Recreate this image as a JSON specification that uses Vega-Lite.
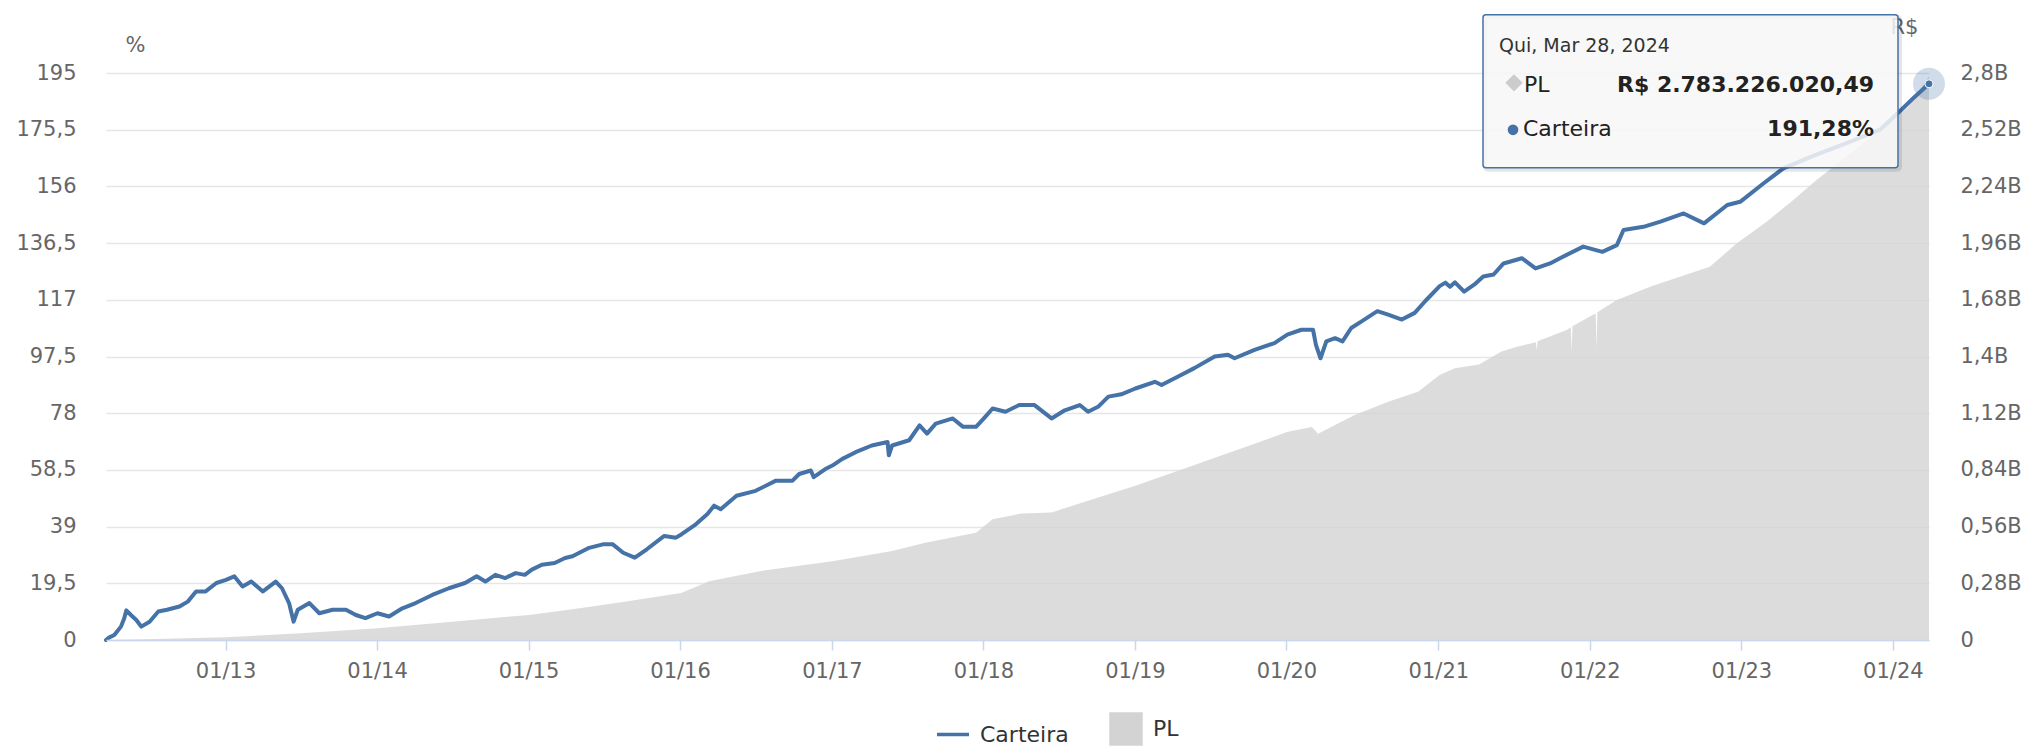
{
  "$schema": "https://vega.github.io/schema/vega-lite/v6.json",
  "width": 1823,
  "height": 567,
  "autosize": {"type": "none"},
  "padding": {"left": 106, "top": 73, "right": 96, "bottom": 107},
  "background": "white",
  "config": {
    "view": {"stroke": null},
    "font": "DejaVu Sans",
    "locale": {
      "number": {"decimal": ",", "thousands": ".", "grouping": [3], "currency": ["R$ ", ""]},
      "time": {
        "dateTime": "%A, %e de %B de %Y. %X",
        "date": "%d/%m/%Y",
        "time": "%H:%M:%S",
        "periods": ["AM", "PM"],
        "days": ["Domingo", "Segunda", "Terça", "Quarta", "Quinta", "Sexta", "Sábado"],
        "shortDays": ["Dom", "Seg", "Ter", "Qua", "Qui", "Sex", "Sáb"],
        "months": ["Janeiro", "Fevereiro", "Março", "Abril", "Maio", "Junho", "Julho", "Agosto", "Setembro", "Outubro", "Novembro", "Dezembro"],
        "shortMonths": ["Jan", "Fev", "Mar", "Abr", "Mai", "Jun", "Jul", "Ago", "Set", "Out", "Nov", "Dez"]
      }
    }
  },
  "datasets": {
    "carteira": [
      {"date": "2012-03-19", "carteira": 0},
      {"date": "2012-03-26", "carteira": 0.8},
      {"date": "2012-04-08", "carteira": 1.7},
      {"date": "2012-04-24", "carteira": 4.6},
      {"date": "2012-05-02", "carteira": 7.5},
      {"date": "2012-05-07", "carteira": 10.2},
      {"date": "2012-05-18", "carteira": 8.6},
      {"date": "2012-05-31", "carteira": 6.9},
      {"date": "2012-06-12", "carteira": 4.6},
      {"date": "2012-07-02", "carteira": 6.3},
      {"date": "2012-07-23", "carteira": 9.8},
      {"date": "2012-08-13", "carteira": 10.4},
      {"date": "2012-09-12", "carteira": 11.5},
      {"date": "2012-10-02", "carteira": 13.2},
      {"date": "2012-10-22", "carteira": 16.7},
      {"date": "2012-11-14", "carteira": 16.7},
      {"date": "2012-12-10", "carteira": 19.6},
      {"date": "2013-01-02", "carteira": 20.7},
      {"date": "2013-01-22", "carteira": 21.9},
      {"date": "2013-02-11", "carteira": 18.4},
      {"date": "2013-03-04", "carteira": 20.1},
      {"date": "2013-04-01", "carteira": 16.7},
      {"date": "2013-05-02", "carteira": 20.1},
      {"date": "2013-05-17", "carteira": 17.8},
      {"date": "2013-06-03", "carteira": 12.7},
      {"date": "2013-06-14", "carteira": 6.3},
      {"date": "2013-06-24", "carteira": 10.4},
      {"date": "2013-07-22", "carteira": 12.7},
      {"date": "2013-08-15", "carteira": 9.2},
      {"date": "2013-09-16", "carteira": 10.4},
      {"date": "2013-10-18", "carteira": 10.4},
      {"date": "2013-11-11", "carteira": 8.6},
      {"date": "2013-12-04", "carteira": 7.5},
      {"date": "2014-01-02", "carteira": 9.2},
      {"date": "2014-01-30", "carteira": 8.1},
      {"date": "2014-03-03", "carteira": 10.9},
      {"date": "2014-04-04", "carteira": 12.7},
      {"date": "2014-05-14", "carteira": 15.5},
      {"date": "2014-06-23", "carteira": 17.8},
      {"date": "2014-08-01", "carteira": 19.6},
      {"date": "2014-08-29", "carteira": 21.9},
      {"date": "2014-09-19", "carteira": 20.1},
      {"date": "2014-10-13", "carteira": 22.4},
      {"date": "2014-11-06", "carteira": 21.3},
      {"date": "2014-12-01", "carteira": 23},
      {"date": "2014-12-23", "carteira": 22.4},
      {"date": "2015-01-09", "carteira": 24.2},
      {"date": "2015-02-02", "carteira": 25.9},
      {"date": "2015-03-05", "carteira": 26.5},
      {"date": "2015-03-30", "carteira": 28.2},
      {"date": "2015-04-17", "carteira": 28.8},
      {"date": "2015-05-27", "carteira": 31.7},
      {"date": "2015-06-29", "carteira": 32.9},
      {"date": "2015-07-23", "carteira": 32.9},
      {"date": "2015-08-17", "carteira": 30},
      {"date": "2015-09-14", "carteira": 28.3},
      {"date": "2015-10-13", "carteira": 31.2},
      {"date": "2015-11-24", "carteira": 35.8},
      {"date": "2015-12-22", "carteira": 35.2},
      {"date": "2016-01-04", "carteira": 36.3},
      {"date": "2016-02-08", "carteira": 39.8},
      {"date": "2016-03-07", "carteira": 43.3},
      {"date": "2016-03-23", "carteira": 46.2},
      {"date": "2016-04-08", "carteira": 45},
      {"date": "2016-05-16", "carteira": 49.6},
      {"date": "2016-07-01", "carteira": 51.3},
      {"date": "2016-08-19", "carteira": 54.8},
      {"date": "2016-09-28", "carteira": 54.8},
      {"date": "2016-10-14", "carteira": 57.1},
      {"date": "2016-11-11", "carteira": 58.3},
      {"date": "2016-11-18", "carteira": 56},
      {"date": "2016-12-16", "carteira": 58.8},
      {"date": "2017-01-02", "carteira": 60},
      {"date": "2017-01-26", "carteira": 62.3},
      {"date": "2017-02-27", "carteira": 64.6},
      {"date": "2017-04-07", "carteira": 66.9},
      {"date": "2017-05-15", "carteira": 68.1},
      {"date": "2017-05-18", "carteira": 63.5},
      {"date": "2017-05-26", "carteira": 66.9},
      {"date": "2017-07-06", "carteira": 68.7},
      {"date": "2017-07-31", "carteira": 73.8},
      {"date": "2017-08-18", "carteira": 71},
      {"date": "2017-09-08", "carteira": 74.4},
      {"date": "2017-10-19", "carteira": 76.2},
      {"date": "2017-11-13", "carteira": 73.3},
      {"date": "2017-12-14", "carteira": 73.3},
      {"date": "2018-01-02", "carteira": 76.2},
      {"date": "2018-01-23", "carteira": 79.6},
      {"date": "2018-02-23", "carteira": 78.5},
      {"date": "2018-03-28", "carteira": 80.8},
      {"date": "2018-05-04", "carteira": 80.8},
      {"date": "2018-06-14", "carteira": 76.2},
      {"date": "2018-07-16", "carteira": 79},
      {"date": "2018-08-21", "carteira": 80.8},
      {"date": "2018-09-10", "carteira": 78.5},
      {"date": "2018-10-04", "carteira": 80.2},
      {"date": "2018-10-29", "carteira": 83.7},
      {"date": "2018-11-29", "carteira": 84.5},
      {"date": "2019-01-02", "carteira": 86.5},
      {"date": "2019-02-18", "carteira": 88.8},
      {"date": "2019-03-06", "carteira": 87.7},
      {"date": "2019-04-15", "carteira": 90.6},
      {"date": "2019-05-24", "carteira": 93.5},
      {"date": "2019-07-12", "carteira": 97.5},
      {"date": "2019-08-13", "carteira": 98.1},
      {"date": "2019-08-29", "carteira": 96.9},
      {"date": "2019-10-16", "carteira": 99.8},
      {"date": "2019-12-03", "carteira": 102.1},
      {"date": "2020-01-03", "carteira": 105},
      {"date": "2020-02-06", "carteira": 106.7},
      {"date": "2020-03-05", "carteira": 106.7},
      {"date": "2020-03-12", "carteira": 101.5},
      {"date": "2020-03-23", "carteira": 96.9},
      {"date": "2020-04-06", "carteira": 102.7},
      {"date": "2020-04-27", "carteira": 103.8},
      {"date": "2020-05-15", "carteira": 102.7},
      {"date": "2020-06-05", "carteira": 107.3},
      {"date": "2020-06-30", "carteira": 109.6},
      {"date": "2020-08-07", "carteira": 113.1},
      {"date": "2020-09-02", "carteira": 111.9},
      {"date": "2020-10-05", "carteira": 110.2},
      {"date": "2020-11-05", "carteira": 112.5},
      {"date": "2020-11-30", "carteira": 116.5},
      {"date": "2021-01-04", "carteira": 121.7},
      {"date": "2021-01-18", "carteira": 122.9},
      {"date": "2021-01-29", "carteira": 121.5},
      {"date": "2021-02-10", "carteira": 123},
      {"date": "2021-03-04", "carteira": 119.8},
      {"date": "2021-03-29", "carteira": 122.3},
      {"date": "2021-04-19", "carteira": 125},
      {"date": "2021-05-14", "carteira": 125.7},
      {"date": "2021-06-07", "carteira": 129.5},
      {"date": "2021-07-21", "carteira": 131.3},
      {"date": "2021-08-23", "carteira": 127.8},
      {"date": "2021-09-27", "carteira": 129.5},
      {"date": "2021-10-21", "carteira": 131.3},
      {"date": "2021-12-16", "carteira": 135.3},
      {"date": "2022-01-31", "carteira": 133.5},
      {"date": "2022-03-07", "carteira": 135.8},
      {"date": "2022-03-23", "carteira": 141},
      {"date": "2022-05-10", "carteira": 142.1},
      {"date": "2022-06-20", "carteira": 143.9},
      {"date": "2022-08-15", "carteira": 146.7},
      {"date": "2022-10-03", "carteira": 143.3},
      {"date": "2022-11-28", "carteira": 149.6},
      {"date": "2022-12-29", "carteira": 150.7},
      {"date": "2023-02-23", "carteira": 157},
      {"date": "2023-04-12", "carteira": 162.2},
      {"date": "2023-06-23", "carteira": 166.5},
      {"date": "2023-09-13", "carteira": 171},
      {"date": "2023-12-01", "carteira": 175.5},
      {"date": "2024-01-19", "carteira": 182},
      {"date": "2024-02-21", "carteira": 186.6},
      {"date": "2024-03-28", "carteira": 191.28}
    ],
    "pl": [
      {"date": "2012-03-19", "pl": 0},
      {"date": "2012-06-01", "pl": 3000000},
      {"date": "2012-09-03", "pl": 7000000},
      {"date": "2013-01-02", "pl": 13000000},
      {"date": "2013-07-01", "pl": 33000000},
      {"date": "2014-01-02", "pl": 58000000},
      {"date": "2014-07-01", "pl": 90000000},
      {"date": "2015-01-02", "pl": 124000000},
      {"date": "2015-04-30", "pl": 155000000},
      {"date": "2015-08-24", "pl": 190000000},
      {"date": "2016-01-04", "pl": 232000000},
      {"date": "2016-03-11", "pl": 290000000},
      {"date": "2016-07-11", "pl": 340000000},
      {"date": "2017-01-02", "pl": 389000000},
      {"date": "2017-05-26", "pl": 439000000},
      {"date": "2017-08-14", "pl": 480000000},
      {"date": "2017-12-14", "pl": 530000000},
      {"date": "2018-01-23", "pl": 596000000},
      {"date": "2018-04-03", "pl": 625000000},
      {"date": "2018-06-14", "pl": 630000000},
      {"date": "2018-09-10", "pl": 688000000},
      {"date": "2019-01-02", "pl": 762000000},
      {"date": "2019-05-09", "pl": 853000000},
      {"date": "2019-10-16", "pl": 969000000},
      {"date": "2020-01-02", "pl": 1027000000},
      {"date": "2020-03-02", "pl": 1052000000},
      {"date": "2020-03-17", "pl": 1019000000},
      {"date": "2020-06-12", "pl": 1110000000},
      {"date": "2020-09-02", "pl": 1176000000},
      {"date": "2020-11-13", "pl": 1226000000},
      {"date": "2021-01-04", "pl": 1309000000},
      {"date": "2021-02-10", "pl": 1342000000},
      {"date": "2021-04-09", "pl": 1360000000},
      {"date": "2021-06-02", "pl": 1425000000},
      {"date": "2021-07-09", "pl": 1448000000},
      {"date": "2021-08-24", "pl": 1470000000},
      {"date": "2021-08-26", "pl": 1430000000},
      {"date": "2021-08-28", "pl": 1475000000},
      {"date": "2021-11-06", "pl": 1531000000},
      {"date": "2021-11-16", "pl": 1545000000},
      {"date": "2021-11-18", "pl": 1420000000},
      {"date": "2021-11-20", "pl": 1550000000},
      {"date": "2022-01-03", "pl": 1600000000},
      {"date": "2022-01-15", "pl": 1612000000},
      {"date": "2022-01-17", "pl": 1440000000},
      {"date": "2022-01-19", "pl": 1618000000},
      {"date": "2022-03-07", "pl": 1679000000},
      {"date": "2022-05-26", "pl": 1745000000},
      {"date": "2022-10-17", "pl": 1843000000},
      {"date": "2022-12-21", "pl": 1959000000},
      {"date": "2023-03-03", "pl": 2066000000},
      {"date": "2023-05-06", "pl": 2173000000},
      {"date": "2023-07-01", "pl": 2272000000},
      {"date": "2023-09-13", "pl": 2390000000},
      {"date": "2023-12-01", "pl": 2520000000},
      {"date": "2024-02-06", "pl": 2630000000},
      {"date": "2024-03-28", "pl": 2783226020.49}
    ],
    "tooltip": [
      {"date": "2024-03-28", "carteira": 191.28, "pl": 2783226020.49}
    ]
  },
  "encoding": {
    "x": {
      "field": "date",
      "type": "temporal",
      "scale": {
        "type": "utc",
        "nice": false,
        "domain": [
          {"year": 2012, "month": 3, "date": 19, "utc": true},
          {"year": 2024, "month": 3, "date": 28, "utc": true}
        ]
      },
      "axis": {
        "title": null,
        "format": "%m/%y",
        "tickCount": {"interval": "year", "step": 1},
        "grid": false,
        "domainColor": "#ccd6eb",
        "domainWidth": 1.5,
        "tickColor": "#ccd6eb",
        "tickWidth": 1.5,
        "tickSize": 10,
        "labelFont": "DejaVu Sans",
        "labelFontSize": 21,
        "labelColor": "#666666",
        "labelBaseline": "alphabetic",
        "labelPadding": 27,
        "labelFlush": false,
        "labelOverlap": false,
        "zindex": 1
      }
    }
  },
  "layer": [
    {
      "data": {"name": "pl"},
      "mark": {"type": "area", "fillOpacity": 0.8, "interpolate": "linear"},
      "encoding": {
        "y": {
          "field": "pl",
          "type": "quantitative",
          "stack": null,
          "scale": {"domain": [0, 2800000000], "nice": false, "zero": true},
          "axis": {
            "orient": "right",
            "grid": false,
            "ticks": false,
            "tickSize": 0,
            "domain": false,
            "labelPadding": 31,
            "values": [0, 280000000, 560000000, 840000000, 1120000000, 1400000000, 1680000000, 1960000000, 2240000000, 2520000000, 2800000000],
            "labelExpr": "datum.value == 0 ? '0' : format(datum.value / 1000000000, '.2~f') + 'B'",
            "labelFont": "DejaVu Sans",
            "labelFontSize": 21,
            "labelColor": "#666666",
            "labelAlign": "left",
            "labelBaseline": "middle",
            "title": "R$",
            "titleAngle": 0,
            "titleX": -25,
            "titleY": -46,
            "titleAlign": "center",
            "titleBaseline": "middle",
            "titleFontWeight": "normal",
            "titleFontSize": 21,
            "titleColor": "#666666"
          }
        },
        "color": {"datum": "PL"}
      }
    },
    {
      "encoding": {
        "y": {
          "field": "carteira",
          "type": "quantitative",
          "scale": {"domain": [0, 195], "nice": false, "zero": true},
          "axis": {
            "orient": "left",
            "grid": true,
            "gridColor": "#e6e6e6",
            "gridWidth": 1.5,
            "ticks": false,
            "tickSize": 0,
            "domain": false,
            "labelPadding": 30,
            "values": [0, 19.5, 39, 58.5, 78, 97.5, 117, 136.5, 156, 175.5, 195],
            "format": ".1~f",
            "labelFont": "DejaVu Sans",
            "labelFontSize": 21,
            "labelColor": "#666666",
            "labelBaseline": "middle",
            "title": "%",
            "titleAngle": 0,
            "titleX": 29,
            "titleY": -28,
            "titleAlign": "center",
            "titleBaseline": "middle",
            "titleFontWeight": "normal",
            "titleFontSize": 21,
            "titleColor": "#666666"
          }
        }
      },
      "layer": [
        {
          "data": {"name": "carteira"},
          "mark": {"type": "line", "strokeWidth": 4, "strokeJoin": "round", "strokeCap": "round"},
          "encoding": {
            "color": {
              "datum": "Carteira",
              "type": "nominal",
              "scale": {"domain": ["Carteira", "PL"], "range": ["#4572A7", "#d3d3d3"]},
              "legend": {
                "orient": "none",
                "legendX": 830,
                "legendY": 639,
                "direction": "horizontal",
                "title": null,
                "labelFont": "DejaVu Sans",
                "labelFontSize": 22,
                "labelColor": "#333333",
                "symbolSize": 900,
                "symbolStrokeWidth": 3.5,
                "labelOffset": 10,
                "columnPadding": 35,
                "encode": {
                  "symbols": {
                    "update": {
                      "shape": {"signal": "datum.value === 'Carteira' ? 'stroke' : 'square'"},
                      "size": {"signal": "datum.value === 'Carteira' ? 1024 : 900"},
                      "fill": {"signal": "datum.value === 'Carteira' ? 'transparent' : '#d3d3d3'"},
                      "stroke": {"signal": "datum.value === 'Carteira' ? '#4572A7' : 'transparent'"},
                      "strokeWidth": {"value": 3.5},
                      "opacity": {"value": 1},
                      "fillOpacity": {"value": 1},
                      "strokeOpacity": {"value": 1}
                    }
                  }
                }
              }
            }
          }
        },
        {
          "data": {"name": "tooltip"},
          "mark": {"type": "point", "shape": "circle", "filled": true, "size": 1018, "color": "#4572A7", "opacity": 0.25}
        },
        {
          "data": {"name": "tooltip"},
          "mark": {"type": "point", "shape": "circle", "filled": true, "size": 64, "fill": "#4572A7", "stroke": "#ffffff", "strokeWidth": 1, "opacity": 1}
        },
        {
          "data": {"name": "tooltip"},
          "mark": {"type": "rect", "fill": "transparent", "stroke": "#000000", "strokeOpacity": 0.1, "strokeWidth": 4, "cornerRadius": 3, "xOffset": -444, "x2Offset": -29, "yOffset": -67, "y2Offset": 86},
          "encoding": {"x2": {"field": "date"}, "y2": {"field": "carteira"}}
        },
        {
          "data": {"name": "tooltip"},
          "mark": {"type": "rect", "fill": "#f7f7f7", "fillOpacity": 0.85, "stroke": "#4572A7", "strokeWidth": 1.5, "cornerRadius": 3, "xOffset": -446, "x2Offset": -31, "yOffset": -69, "y2Offset": 84},
          "encoding": {"x2": {"field": "date"}, "y2": {"field": "carteira"}}
        },
        {
          "data": {"name": "tooltip"},
          "mark": {"type": "text", "align": "left", "baseline": "alphabetic", "dx": -430, "dy": -32, "fontSize": 19, "color": "#333333"},
          "encoding": {"text": {"field": "date", "type": "temporal", "timeUnit": "utcyearmonthdate", "format": "%a, %b %d, %Y"}}
        },
        {
          "data": {"name": "tooltip"},
          "mark": {"type": "point", "shape": "diamond", "filled": true, "size": 300, "color": "#cccccc", "opacity": 1, "xOffset": -415, "yOffset": -1}
        },
        {
          "data": {"name": "tooltip"},
          "mark": {"type": "text", "align": "left", "baseline": "alphabetic", "dx": -405, "dy": 8, "fontSize": 22, "color": "#222222", "text": "PL"}
        },
        {
          "data": {"name": "tooltip"},
          "mark": {"type": "text", "align": "right", "baseline": "alphabetic", "dx": -55, "dy": 8, "fontSize": 22, "fontWeight": "bold", "color": "#222222"},
          "encoding": {"text": {"field": "pl", "type": "quantitative", "format": "$,.2f"}}
        },
        {
          "data": {"name": "tooltip"},
          "mark": {"type": "point", "shape": "circle", "filled": true, "size": 113, "color": "#4572A7", "opacity": 1, "xOffset": -416, "yOffset": 46}
        },
        {
          "data": {"name": "tooltip"},
          "mark": {"type": "text", "align": "left", "baseline": "alphabetic", "dx": -406, "dy": 52, "fontSize": 22, "color": "#222222", "text": "Carteira"}
        },
        {
          "data": {"name": "tooltip"},
          "mark": {"type": "text", "align": "right", "baseline": "alphabetic", "dx": -77, "dy": 52, "fontSize": 22, "fontWeight": "bold", "color": "#222222"},
          "encoding": {"text": {"field": "carteira", "type": "quantitative", "format": ",.2f"}}
        },
        {
          "data": {"name": "tooltip"},
          "mark": {"type": "text", "align": "left", "baseline": "alphabetic", "dx": -77, "dy": 52, "fontSize": 22, "fontWeight": "bold", "color": "#222222", "text": "%"}
        }
      ]
    }
  ],
  "resolve": {"scale": {"y": "independent"}}
}
